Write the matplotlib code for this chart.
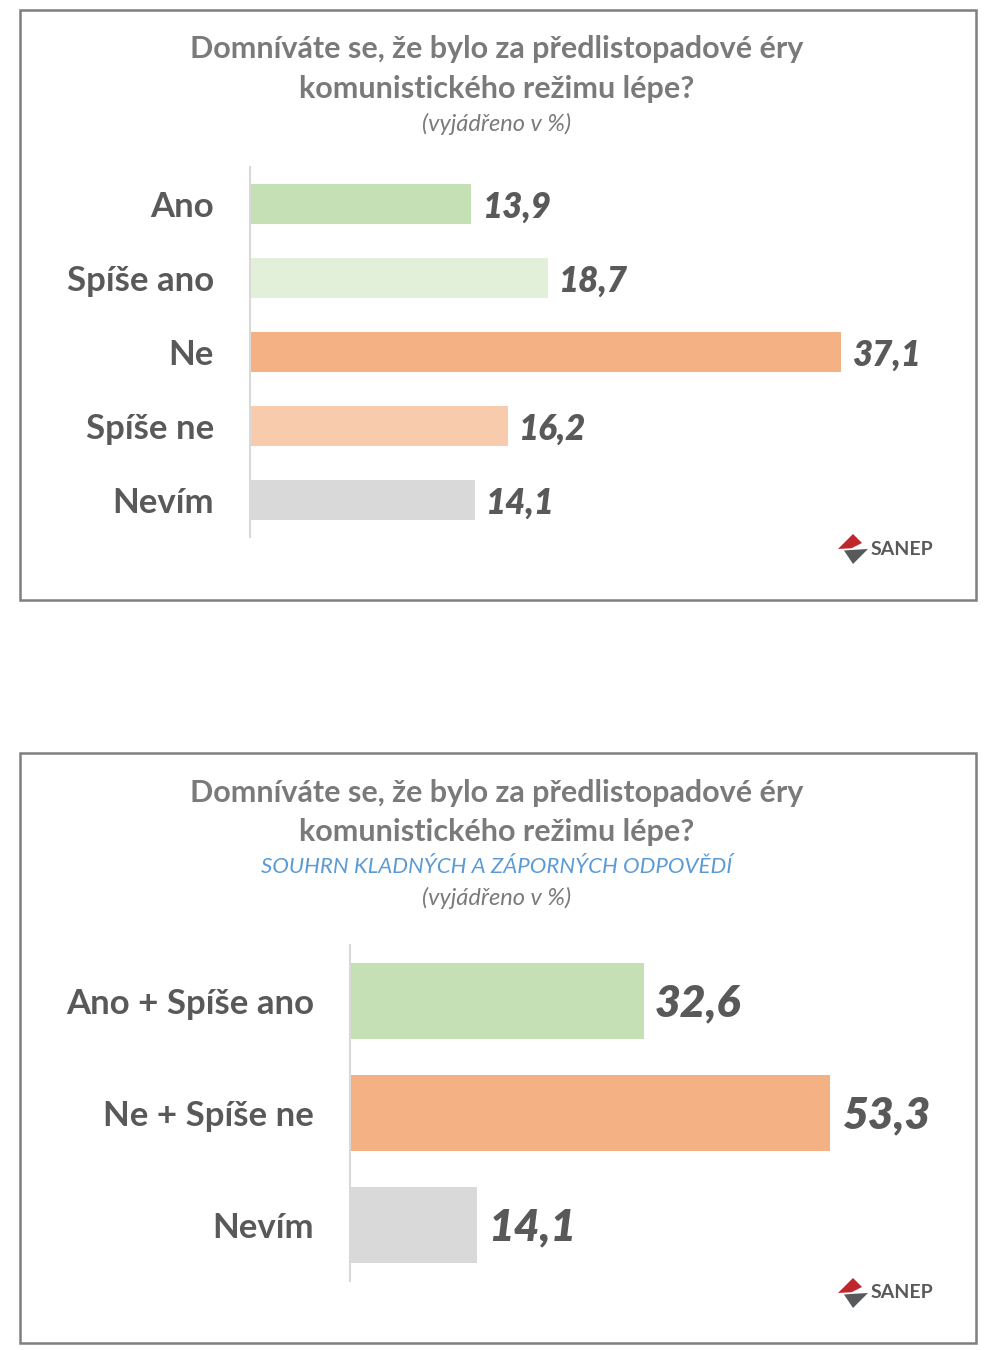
import matplotlib
matplotlib.use("Agg")
import matplotlib.pyplot as plt
from matplotlib.patches import Rectangle, Polygon

# ---------------- data ----------------
cats1 = ["Ano", "Spíše ano", "Ne", "Spíše ne", "Nevím"]
vals1 = [13.9, 18.7, 37.1, 16.2, 14.1]
cols1 = ["#c5e0b4", "#e2f0d9", "#f4b183", "#f8cbad", "#d9d9d9"]

cats2 = ["Ano + Spíše ano", "Ne + Spíše ne", "Nevím"]
vals2 = [32.6, 53.3, 14.1]
cols2 = ["#c5e0b4", "#f4b183", "#d9d9d9"]

title_l1 = "Domníváte se, že bylo za předlistopadové éry"
title_l2 = "komunistického režimu lépe?"
subtitle2 = "SOUHRN KLADNÝCH A ZÁPORNÝCH ODPOVĚDÍ"
unit_txt = "(vyjádřeno v %)"

W, H = 1000, 1350
fig = plt.figure(figsize=(W / 100, H / 100), dpi=100)
fig.patch.set_facecolor("white")

FONT = ["Lato", "DejaVu Sans"]
TXT = "#595959"
TTL = "#7a7a7a"


def px_axes(x0, y0, x1, y1):
    """pixel box (top-left origin) -> axes"""
    return fig.add_axes([x0 / W, 1 - y1 / H, (x1 - x0) / W, (y1 - y0) / H])


def frame(x0, y0, x1, y1):
    fig.patches.append(Rectangle((x0 / W, 1 - y1 / H), (x1 - x0) / W, (y1 - y0) / H,
                                 transform=fig.transFigure, fill=False,
                                 edgecolor="#7f7f7f", linewidth=1.8))


def ftext(x, y, s, **kw):
    fig.text(x / W, 1 - y / H, s, family=FONT, **kw)


def logo(x, y):
    # small diamond mark + SANEP text, x,y = left-centre in px
    s = 15
    cx, cy = x + s, y
    top = [(cx - s, cy), (cx, cy - s), (cx + s * 0.6, cy - s * 0.4), (cx - s * 0.1, cy - s * 0.05)]
    bot = [(cx - s * 0.6, cy + s * 0.1), (cx + s * 0.1, cy + s * 0.05), (cx + s, cy), (cx, cy + s)]
    for pts, c in ((top, "#c0272d"), (bot, "#58595b")):
        fig.patches.append(Polygon([(px / W, 1 - py / H) for px, py in pts],
                                   closed=True, transform=fig.transFigure,
                                   facecolor=c, edgecolor="none"))
    ftext(x + 2 * s + 3, y, "SANEP", fontsize=14, color="#58595b",
          ha="left", va="center", fontweight="bold")


def bars(ax, cats, vals, cols, height, xmax, cat_fs, val_fs):
    y = list(range(len(cats)))
    ax.barh(y, vals, color=cols, height=height)
    ax.set_ylim(len(cats) - 0.5, -0.5)
    ax.set_xlim(0, xmax)
    for s in ("top", "right", "bottom"):
        ax.spines[s].set_visible(False)
    ax.spines["left"].set_color("#d9d9d9")
    ax.spines["left"].set_linewidth(1.5)
    ax.set_xticks([])
    ax.set_yticks(y)
    ax.set_yticklabels(cats, fontsize=cat_fs, color=TXT, fontweight="bold", family=FONT)
    ax.tick_params(axis="y", length=0, pad=26)
    ax.set_facecolor("none")
    for yi, v in zip(y, vals):
        ax.annotate(f"{v:.1f}".replace(".", ","), (v, yi), xytext=(8, -2),
                    textcoords="offset points", va="center", ha="left",
                    fontsize=val_fs, color=TXT, fontweight="heavy",
                    fontstyle="italic", family=FONT)


# ---------------- panel 1 ----------------
frame(20, 10, 976, 600)
ftext(497, 49, title_l1, fontsize=22, color=TTL, ha="center", va="center", fontweight="bold")
ftext(497, 89, title_l2, fontsize=22, color=TTL, ha="center", va="center", fontweight="bold")
ftext(497, 124, unit_txt, fontsize=17, color=TTL, ha="center", va="center", fontstyle="italic")
ax1 = px_axes(250, 167, 967, 537)
bars(ax1, cats1, vals1, cols1, 0.54, 45, 25, 25)
logo(838, 549)

# ---------------- panel 2 ----------------
frame(20, 753, 976, 1343)
ftext(497, 793, title_l1, fontsize=22, color=TTL, ha="center", va="center", fontweight="bold")
ftext(497, 832, title_l2, fontsize=22, color=TTL, ha="center", va="center", fontweight="bold")
ftext(497, 867, subtitle2, fontsize=16, color="#5b9bd5", ha="center", va="center", fontstyle="italic")
ftext(497, 898, unit_txt, fontsize=17, color=TTL, ha="center", va="center", fontstyle="italic")
ax2 = px_axes(350, 945, 963, 1281)
bars(ax2, cats2, vals2, cols2, 0.67, 68, 25, 32)
logo(838, 1293)

fig.savefig("out.png", dpi=100, facecolor="white")
